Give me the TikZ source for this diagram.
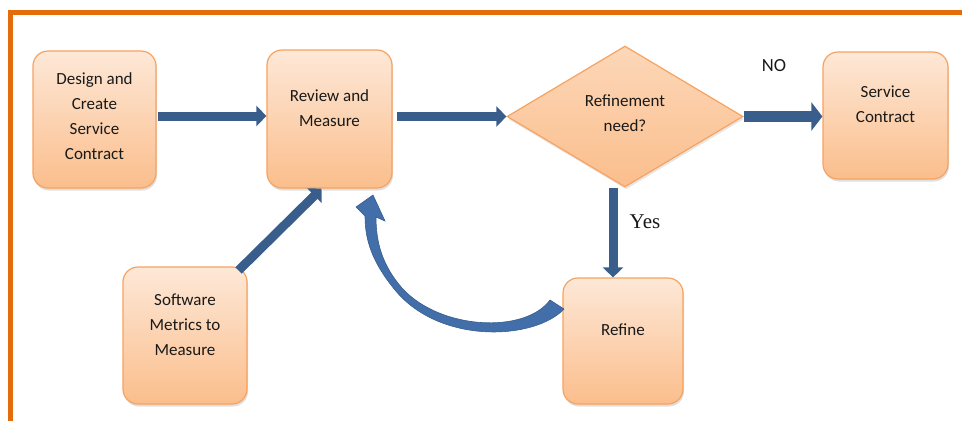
\documentclass[tikz,border=0pt]{standalone}
\usepackage{fontspec}
\setmainfont{Carlito}
\newfontfamily\yesfont{Liberation Serif}
\usetikzlibrary{arrows.meta,shapes.geometric,shadows,positioning}
\definecolor{frameorange}{RGB}{228,108,10}
\definecolor{boxline}{RGB}{247,162,94}
\definecolor{boxtop}{RGB}{253,232,215}
\definecolor{boxbottom}{RGB}{251,190,140}
\definecolor{flowblue}{RGB}{58,94,140}
\definecolor{loopblue}{RGB}{66,110,170}
\newcommand{\pushup}[1]{\rule[-#1]{0pt}{#1}}

\begin{document}
\begin{tikzpicture}[x=1pt, y=-1pt,
    box/.style={draw=boxline, line width=1.2pt, rounded corners=15pt,
        top color=boxtop, bottom color=boxbottom, align=center,
        font=\fontsize{17}{25}\selectfont, text=black!90,
        drop shadow={shadow xshift=1pt, shadow yshift=-2.5pt, opacity=0.25}},
    decision/.style={diamond, draw=boxline, line width=1.2pt, aspect=1.67,
        inner sep=0pt, top color=boxtop!60!boxbottom, bottom color=boxbottom,
        align=center, font=\fontsize{17}{25}\selectfont, text=black!90,
        drop shadow={shadow xshift=1pt, shadow yshift=-2.5pt, opacity=0.2}},
    flow/.style={draw=flowblue, line width=9pt, -{Triangle[length=10pt, width=20pt]}}]
        \useasboundingbox (0,0) rectangle (962,421);
        % frame
        \draw [frameorange, line width=5pt] (10.5,421) -- (10.5,12.5) -- (962,12.5);

        % boxes
        \node [box, minimum width=123pt, minimum height=137pt] (design) at (94.5,119.5) {Design and\\Create\\Service\\Contract\pushup{6pt}};
        \node [box, minimum width=125pt, minimum height=138pt] (review) at (329.5,119) {Review and\\Measure\pushup{22pt}};
        \node [decision, minimum width=236pt, minimum height=141pt] (need) at (625,116.5) {Refinement\\need?\pushup{6pt}};
        \node [box, minimum width=125pt, minimum height=127pt] (service) at (885.5,115.5) {Service\\Contract\pushup{22pt}};
        \node [box, minimum width=124pt, minimum height=137pt] (metrics) at (185,335.5) {Software\\Metrics to\\Measure\pushup{22pt}};
        \node [box, minimum width=120pt, minimum height=126pt] (refine) at (623,341) {Refine\pushup{22pt}};

        % labels
        \node [font=\fontsize{18.5}{20}\selectfont, text=black!90] (no) at (774,66) {NO};
        \node [font=\yesfont\fontsize{21}{24}\selectfont, text=black!90] (yes) at (645,222) {Yes};

        % arrows
        \draw [flow] ([xshift=1pt,yshift=3.5pt]design.east) -- ([yshift=3.5pt]design.east -| review.west);
        \draw [flow] ([xshift=4pt]review.east |- need.west) -- (need.west);
        \draw [flow, line width=11pt, -{Triangle[length=11pt, width=28pt]}] (need.east) -- (need.east -| service.west);
        \draw [flow] ([xshift=-12pt]need.south) -- ([xshift=-12pt]need.south |- refine.north);
        \draw [flow] ([xshift=-9pt,yshift=-4pt]metrics.north east) -- ([xshift=-8pt]review.south);

        % loop back from refine
        \filldraw [loopblue, draw=flowblue, line width=0.6pt]
            (564,309) .. controls (535,340) and (440,345) .. (395,290)
            .. controls (372,262) and (365,240) .. (365,216)
            -- (356,207) -- (373,195) -- (385,221) -- (376,217)
            .. controls (376,242) and (382,265) .. (402,288)
            .. controls (440,330) and (525,334) .. (550,300) -- cycle;
    \end{tikzpicture}
\end{document}
